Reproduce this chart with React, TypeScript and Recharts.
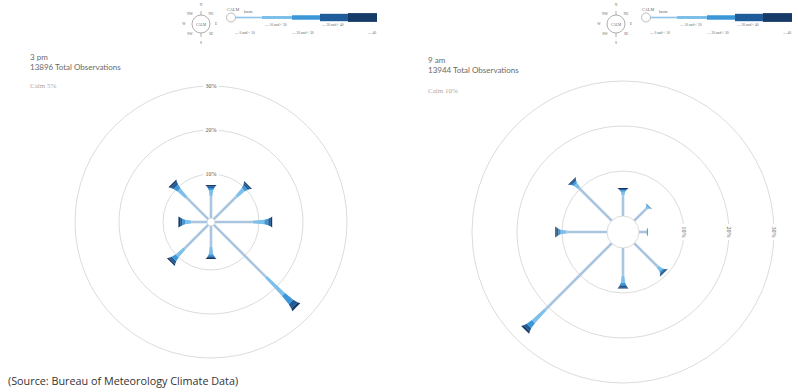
import { PolarAngleAxis, PolarGrid, PolarRadiusAxis, RadialBar, RadialBarChart } from "recharts";

// wind directions, clockwise from north
const directions = ["N", "NE", "E", "SE", "S", "SW", "W", "NW"];
const speedBins = ["0 and < 10", "10 and < 20", "20 and < 30", "30 and < 40", "40"];
const radiusTicks = [0, 10, 20, 30];

// 3 pm, % of observations per speed bin (knots)
const pmBin0 = [5.0, 7.3, 8.6, 16.8, 4.8, 7.6, 3.6, 7.0];
const pmBin1 = [1.3, 2.2, 2.6, 5.6, 1.6, 2.4, 1.4, 2.4];
const pmBin2 = [0.5, 0.7, 0.9, 2.4, 0.5, 1.0, 0.6, 1.0];
const pmBin3 = [0.4, 0.5, 0.6, 1.1, 0.4, 0.6, 0.5, 0.7];
const pmBin4 = [0.3, 0.3, 0.3, 0.6, 0.2, 0.4, 0.4, 0.4];

// 9 am
const amBin0 = [4.6, 3.8, 1.6, 7.3, 6.2, 20.8, 9.0, 10.2];
const amBin1 = [0.8, 0.5, 0.2, 1.1, 1.5, 3.8, 1.3, 1.2];
const amBin2 = [0.3, 0.2, 0.1, 0.4, 0.6, 1.4, 0.5, 0.5];
const amBin3 = [0.3, 0.1, 0.1, 0.3, 0.4, 0.7, 0.4, 0.4];
const amBin4 = [0.2, 0, 0, 0.2, 0.3, 0.5, 0.3, 0.2];

const binColors = ["#a9c5df", "#7cc0ea", "#3c97d8", "#1f5c99", "#163b69"];
// half-widths of each spoke segment at its inner / outer end
const binWidths = [
  [1.3, 1.3],
  [1.4, 2.2],
  [2.2, 3.2],
  [3.2, 4.4],
  [4.4, 5.6],
];

const pmData = directions.map((dir, i) => ({
  dir,
  b0: pmBin0[i],
  b1: pmBin1[i],
  b2: pmBin2[i],
  b3: pmBin3[i],
  b4: pmBin4[i],
}));

const amData = directions.map((dir, i) => ({
  dir,
  b0: amBin0[i],
  b1: amBin1[i],
  b2: amBin2[i],
  b3: amBin3[i],
  b4: amBin4[i],
}));

const RAD = Math.PI / 180;

/** Segment of a spoke: a trapezoid along the middle of the sector recharts computed. */
function spoke(bin: number) {
  return function SpokeSegment(props: any) {
    const { cx, cy, innerRadius, outerRadius, startAngle, endAngle, fill } = props;
    if (outerRadius - innerRadius < 0.15) return <g />;
    const a = ((startAngle + endAngle) / 2) * RAD;
    const ux = Math.cos(-a);
    const uy = Math.sin(-a);
    const px = -uy;
    const py = ux;
    const [w0, w1] = binWidths[bin];
    const p = (r: number, w: number) => `${cx + ux * r + px * w},${cy + uy * r + py * w}`;
    const pts = [p(innerRadius, w0), p(outerRadius, w1), p(outerRadius, -w1), p(innerRadius, -w0)].join(" ");
    return <polygon points={pts} fill={fill} />;
  };
}

function TopTick(props: any) {
  const { x, y, payload } = props;
  if (payload.value === 0) return <g />;
  return (
    <g>
      <rect x={x - 8} y={y - 3.5} width={16} height={7} fill="#fff" />
      <text x={x} y={y} textAnchor="middle" dominantBaseline="central" fontSize={6} fill="#555" fontFamily="Liberation Serif">
        {payload.value}%
      </text>
    </g>
  );
}

function SideTick(props: any) {
  const { x, y, payload } = props;
  if (payload.value === 0) return <g />;
  return (
    <g transform={`rotate(90, ${x}, ${y})`}>
      <rect x={x - 8} y={y - 3.5} width={16} height={7} fill="#fff" />
      <text x={x} y={y} textAnchor="middle" dominantBaseline="central" fontSize={6} fill="#555" fontFamily="Liberation Serif">
        {payload.value}%
      </text>
    </g>
  );
}

function WindRose({
  data,
  left,
  top,
  size,
  inner,
  outer,
  axisAngle,
  tick,
}: {
  data: any[];
  left: number;
  top: number;
  size: number;
  inner: number;
  outer: number;
  axisAngle: number;
  tick: any;
}) {
  return (
    <div style={{ position: "absolute", left, top, width: size, height: size }}>
      {/* recharts lays each band out from its start by a positive size, so the
          range starts one band early to centre N at 12 o'clock */}
      <RadialBarChart
        width={size}
        height={size}
        data={data}
        layout="centric"
        cx={size / 2}
        cy={size / 2}
        innerRadius={inner}
        outerRadius={outer}
        startAngle={67.5}
        endAngle={-292.5}
        margin={{ top: 0, right: 0, bottom: 0, left: 0 }}
      >
        <PolarGrid gridType="circle" radialLines={false} stroke="#dcdcdc" />
        <PolarAngleAxis type="category" dataKey="dir" tick={false} axisLine={false} tickLine={false} />
        <PolarRadiusAxis
          type="number"
          domain={[0, 30]}
          ticks={radiusTicks}
          angle={axisAngle}
          axisLine={false}
          tickLine={false}
          tick={tick}
        />
        {speedBins.map((b, i) => (
          <RadialBar key={b} dataKey={`b${i}`} name={b} stackId="w" fill={binColors[i]} shape={spoke(i)} isAnimationActive={false} />
        ))}
      </RadialBarChart>
    </div>
  );
}

const compass = [
  ["N", 0, -19],
  ["NE", 10, -10],
  ["E", 15, 0],
  ["SE", 10, 10],
  ["S", 0, 19],
  ["SW", -11, 10],
  ["W", -17, 0],
  ["NW", -11, -10],
] as const;

function LegendKey({ dx }: { dx: number }) {
  const seg = [
    [233, 262, 1.6],
    [262, 292, 3],
    [292, 320, 4.5],
    [320, 348, 7.4],
    [348, 377, 8.8],
  ];
  const labels: [string, number, number][] = [
    ["— " + speedBins[0], 235, 34],
    ["— " + speedBins[1], 265, 26],
    ["— " + speedBins[2], 292, 34],
    ["— " + speedBins[3], 322, 26],
    ["— " + speedBins[4], 368, 34],
  ];
  return (
    <g transform={`translate(${dx},0)`} fontFamily="Liberation Serif" fill="#666">
      <circle cx={201} cy={24} r={9} fill="none" stroke="#999" strokeWidth={0.8} />
      <line x1={201} y1={11} x2={201} y2={15} stroke="#999" strokeWidth={0.8} />
      <line x1={201} y1={33} x2={201} y2={37} stroke="#999" strokeWidth={0.8} />
      <text x={201} y={25.5} fontSize={3.5} textAnchor="middle">CALM</text>
      {compass.map(([d, x, y]) => (
        <text key={d} x={201 + x} y={25 + y} fontSize={3.6} textAnchor="middle">
          {d}
        </text>
      ))}
      <text x={227} y={11} fontSize={4.2}>CALM</text>
      <text x={244} y={13} fontSize={4}>knots</text>
      {seg.map(([x0, x1, h], i) => (
        <rect key={i} x={x0} y={17.5 - h / 2} width={x1 - x0} height={h} fill={i === 0 ? "#8fc3ea" : binColors[i]} />
      ))}
      <circle cx={231} cy={17.5} r={4.5} fill="#fff" stroke="#aaa" strokeWidth={0.8} />
      {labels.map(([t, x, y]) => (
        <text key={t} x={x} y={y} fontSize={3.6}>
          {t}
        </text>
      ))}
    </g>
  );
}

const titleStyle: React.CSSProperties = {
  position: "absolute",
  fontFamily: "Lato, 'Open Sans', sans-serif",
  fontSize: 8,
  lineHeight: "10px",
  color: "#6a6a6a",
};
const calmStyle: React.CSSProperties = {
  position: "absolute",
  fontFamily: "'Liberation Serif', serif",
  fontSize: 7,
  color: "#aaa",
};

export default function App() {
  return (
    <div style={{ position: "absolute", left: 0, top: 0, width: 798, height: 392, background: "#fff", overflow: "hidden" }}>
      <svg width={798} height={45} style={{ position: "absolute", left: 0, top: 0 }}>
        <LegendKey dx={0} />
        <LegendKey dx={415} />
      </svg>
      <div style={{ ...titleStyle, left: 30, top: 52 }}>
        3 pm
        <br />
        13896 Total Observations
      </div>
      <div style={{ ...calmStyle, left: 30, top: 82 }}>Calm 5%</div>
      <div style={{ ...titleStyle, left: 428, top: 55 }}>
        9 am
        <br />
        13944 Total Observations
      </div>
      <div style={{ ...calmStyle, left: 428, top: 87 }}>Calm 10%</div>
      <WindRose data={pmData} left={61} top={72} size={300} inner={4} outer={136} axisAngle={90} tick={TopTick} />
      <WindRose data={amData} left={463} top={72} size={320} inner={16} outer={151} axisAngle={0} tick={SideTick} />
      <div
        style={{
          position: "absolute",
          left: 8,
          top: 373,
          fontFamily: "'Open Sans', sans-serif",
          fontSize: 10.8,
          color: "#333",
        }}
      >
        (Source: Bureau of Meteorology Climate Data)
      </div>
    </div>
  );
}
